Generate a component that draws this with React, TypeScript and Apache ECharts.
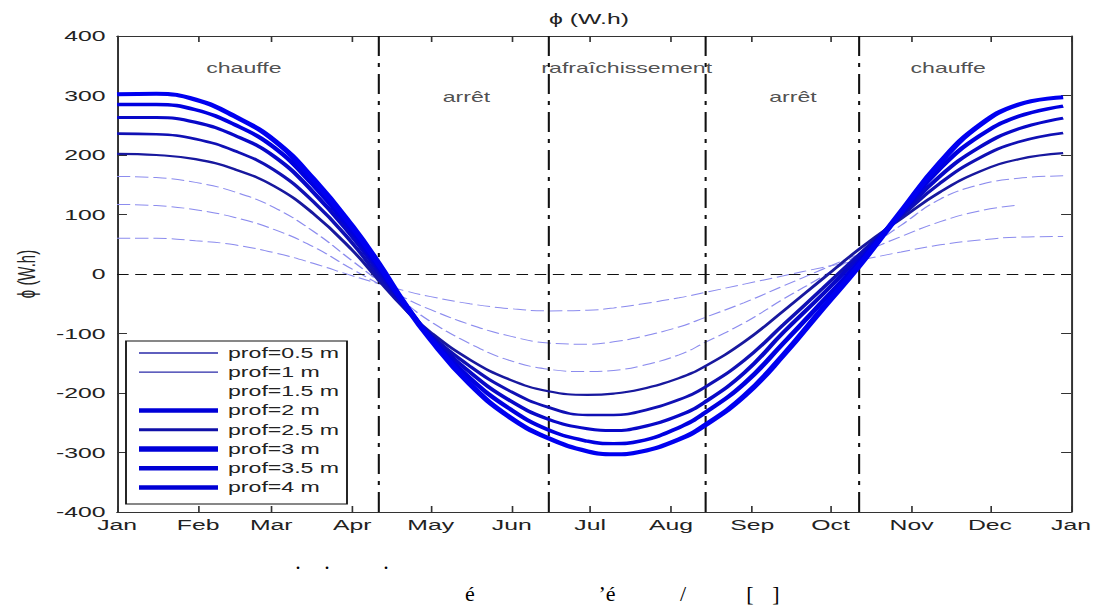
import React, { useEffect, useRef } from "react";
import * as echarts from "echarts";

// ---- data ----
const monthLabels = ["Jan", "Feb", "Mar", "Apr", "May", "Jun", "Jul", "Aug", "Sep", "Oct", "Nov", "Dec", "Jan"];
const monthStarts = [0, 31, 59, 90, 120, 151, 181, 212, 243, 273, 304, 334, 365];

const days = [0, 15, 30, 45, 60, 75, 90, 100, 110, 120, 135, 150, 165, 180, 190, 200, 215, 225, 240, 255, 270, 284, 300, 315, 330, 345, 362];

const prof05 = [60, 60, 56, 49, 36, 18, -3, -16, -28, -38, -50, -58, -62, -61, -57, -51, -40, -31, -17, -3, 11, 23, 37, 49, 57, 62, 63];
const prof1 = [117, 115, 108, 95, 75, 46, 8, -16, -40, -60, -85, -104, -116, -118, -114, -106, -89, -73, -48, -20, 8, 34, 63, 88, 106, 116, null];
const prof15 = [164, 162, 154, 138, 112, 72, 22, -12, -48, -80, -117, -145, -160, -164, -162, -155, -136, -115, -82, -42, -4, 34, 82, 126, 150, 161, 165];
const prof2 = [202, 200, 193, 176, 148, 102, 40, -10, -58, -98, -144, -177, -197, -203, -201, -194, -175, -155, -114, -62, -8, 42, 93, 138, 172, 193, 203];
const prof25 = [236, 235, 227, 207, 175, 122, 52, -4, -57, -102, -155, -196, -224, -237, -237, -231, -211, -190, -145, -85, -24, 33, 97, 153, 195, 222, 237];
const prof3 = [263, 263, 255, 233, 198, 138, 63, 5, -53, -104, -165, -212, -244, -260, -263, -258, -238, -215, -166, -98, -34, 28, 100, 165, 213, 244, 262];
const prof35 = [285, 285, 276, 251, 213, 150, 72, 12, -50, -107, -175, -226, -262, -281, -285, -281, -258, -233, -184, -116, -46, 20, 103, 178, 232, 265, 282];
const prof4 = [302, 303, 293, 265, 225, 160, 80, 18, -50, -110, -185, -240, -276, -298, -303, -299, -278, -254, -205, -136, -58, 14, 105, 188, 250, 285, 297];

const legendNames = ["prof=0.5 m", "prof=1 m", "prof=1.5 m", "prof=2 m", "prof=2.5 m", "prof=3 m", "prof=3.5 m", "prof=4 m"];

const seasonDays = [100, 165, 225, 284];
const annotTexts = ["chauffe", "arrêt", "rafraîchissement", "arrêt", "chauffe"];
const annotDays = [48.5, 133.7, 195, 258.6, 318];
const annotValues = [346, 297, 346, 297, 346];

const titleText = "ϕ (W.h)";
const yName = "ϕ (W.h)";

// ---- layout (reference picture is stretched horizontally) ----
const W = 1096;
const H = 606;
const WI = 664;
const S = W / WI;
const ix = (x: number) => x / S;
const FONT = '"Liberation Sans", Arial, sans-serif';
const SERIF = '"Liberation Serif", "DejaVu Serif", serif';

const thinColor = "#8c8cee";

export default function App() {
  const ref = useRef<HTMLDivElement>(null);

  useEffect(() => {
    if (!ref.current) return;
    const chart = echarts.init(ref.current, null, { renderer: "svg", width: WI, height: H });

    const mk = (vals: (number | null)[]) => days.map((d, i) => [d, vals[i]]);

    const curves = [
      { v: prof05, color: thinColor, w: 1, type: [8, 3] as any },
      { v: prof1, color: thinColor, w: 1, type: [8, 3] as any },
      { v: prof15, color: thinColor, w: 1, type: [8, 3] as any },
      { v: prof2, color: "#18189e", w: 2.2, type: "solid" },
      { v: prof25, color: "#1010b4", w: 2.6, type: "solid" },
      { v: prof3, color: "#0808c8", w: 3.0, type: "solid" },
      { v: prof35, color: "#0000e0", w: 3.4, type: "solid" },
      { v: prof4, color: "#0000f0", w: 4.0, type: "solid" },
    ];

    const series: any[] = curves.map((c, i) => ({
      type: "line",
      name: legendNames[i],
      data: mk(c.v),
      showSymbol: false,
      smooth: 0.45,
      connectNulls: false,
      silent: true,
      z: 2 + i,
      lineStyle: { color: c.color, width: c.w, type: c.type },
    }));

    series[0].markLine = {
      silent: true,
      symbol: "none",
      label: { show: false },
      data: [
        { yAxis: 0, lineStyle: { color: "#111", width: 1, type: [7, 4] } },
        ...seasonDays.map((d) => ({ xAxis: d, lineStyle: { color: "#111", width: 1.25, type: [20, 7, 4, 7] } })),
      ],
    };

    series.push({
      type: "scatter",
      silent: true,
      symbolSize: 0,
      z: 20,
      data: annotTexts.map((t, i) => ({ name: t, value: [annotDays[i], annotValues[i]] })),
      label: {
        show: true,
        position: "inside",
        formatter: "{b}",
        fontSize: 14,
        fontFamily: FONT,
        color: "#222",
      },
    });

    const legendStyles = [
      { color: "#2a2aa8", w: 1.3 },
      { color: "#2a2aa8", w: 1.3 },
      null,
      { color: "#0000d8", w: 4.5 },
      { color: "#1010a8", w: 3 },
      { color: "#0000d8", w: 5.5 },
      { color: "#0000d4", w: 4.5 },
      { color: "#0000d4", w: 4.5 },
    ];
    const legendTop = 353;
    const legendStep = 19.2;
    const graphics: any[] = [
      {
        type: "text",
        x: ix(589),
        y: 19,
        z: 100,
        style: { text: titleText, fontSize: 15, fontFamily: FONT, fill: "#222", align: "center", verticalAlign: "middle" },
      },
      {
        type: "rect",
        z: 100,
        shape: { x: ix(126), y: 341, width: ix(347) - ix(126), height: 163 },
        style: { fill: "#fff", stroke: "#111", lineWidth: 1.1 },
      },
    ];
    legendNames.forEach((n, i) => {
      const y = legendTop + i * legendStep;
      const st = legendStyles[i];
      if (st) {
        graphics.push({
          type: "line",
          z: 101,
          shape: { x1: ix(139), y1: y, x2: ix(218), y2: y },
          style: { stroke: st.color, lineWidth: st.w },
        });
      }
      graphics.push({
        type: "text",
        z: 101,
        x: ix(228),
        y: y,
        style: { text: n, fontSize: 14, fontFamily: FONT, fill: "#222", align: "left", verticalAlign: "middle" },
      });
    });
    // stray text fragments below the chart (serif, not stretched)
    const stray = [
      { t: ".", x: 298, y: 562 },
      { t: ".", x: 327, y: 562 },
      { t: ".", x: 386, y: 562 },
      { t: "é", x: 470, y: 594 },
      { t: "’é", x: 607, y: 594 },
      { t: "/", x: 683, y: 594 },
      { t: "[", x: 750, y: 594 },
      { t: "]", x: 776, y: 594 },
    ];
    stray.forEach((s) => {
      graphics.push({
        type: "text",
        z: 101,
        x: ix(s.x),
        y: s.y,
        scaleX: 1 / S,
        style: { text: s.t, fontSize: 22, fontFamily: SERIF, fill: "#000", align: "center", verticalAlign: "middle" },
      });
    });

    const axisLine = { show: true, onZero: false, lineStyle: { color: "#333", width: 1.2 } };

    chart.setOption({
      animation: false,
      backgroundColor: "#fff",
      textStyle: { fontFamily: FONT },
      grid: { left: ix(107), right: ix(W - 1071), top: 36, bottom: H - 512, containLabel: false },
      xAxis: [
        {
          type: "value",
          min: 0,
          max: 365,
          position: "bottom",
          axisLine,
          axisTick: { show: true, inside: true, length: 6, customValues: monthStarts, lineStyle: { color: "#333" } },
          axisLabel: {
            show: true,
            customValues: monthStarts,
            formatter: (v: number) => monthLabels[monthStarts.indexOf(v)] ?? "",
            fontSize: 15,
            color: "#222",
            margin: 5,
            fontFamily: FONT,
          },
          splitLine: { show: false },
        },
        {
          type: "value",
          min: 0,
          max: 365,
          position: "top",
          axisLine,
          axisTick: { show: true, inside: true, length: 6, customValues: monthStarts, lineStyle: { color: "#333" } },
          axisLabel: { show: false },
          splitLine: { show: false },
        },
      ],
      yAxis: [
        {
          type: "value",
          min: -400,
          max: 400,
          interval: 100,
          position: "left",
          name: yName,
          nameLocation: "middle",
          nameGap: 44,
          nameTextStyle: { fontSize: 15, color: "#222", fontFamily: FONT },
          axisLine,
          axisTick: { show: true, inside: true, length: 6, lineStyle: { color: "#333" } },
          axisLabel: { fontSize: 15, color: "#222", margin: 7, fontFamily: FONT },
          splitLine: { show: false },
        },
        {
          type: "value",
          min: -400,
          max: 400,
          interval: 100,
          position: "right",
          axisLine,
          axisTick: { show: true, inside: true, length: 6, lineStyle: { color: "#333" } },
          axisLabel: { show: false },
          splitLine: { show: false },
        },
      ],
      series,
      graphic: { elements: graphics },
    });

    return () => chart.dispose();
  }, []);

  return (
    <div style={{ position: "absolute", left: 0, top: 0, width: W, height: H, overflow: "hidden", background: "#fff" }}>
      <div ref={ref} style={{ width: WI, height: H, transform: `scaleX(${S})`, transformOrigin: "0 0" }} />
    </div>
  );
}
